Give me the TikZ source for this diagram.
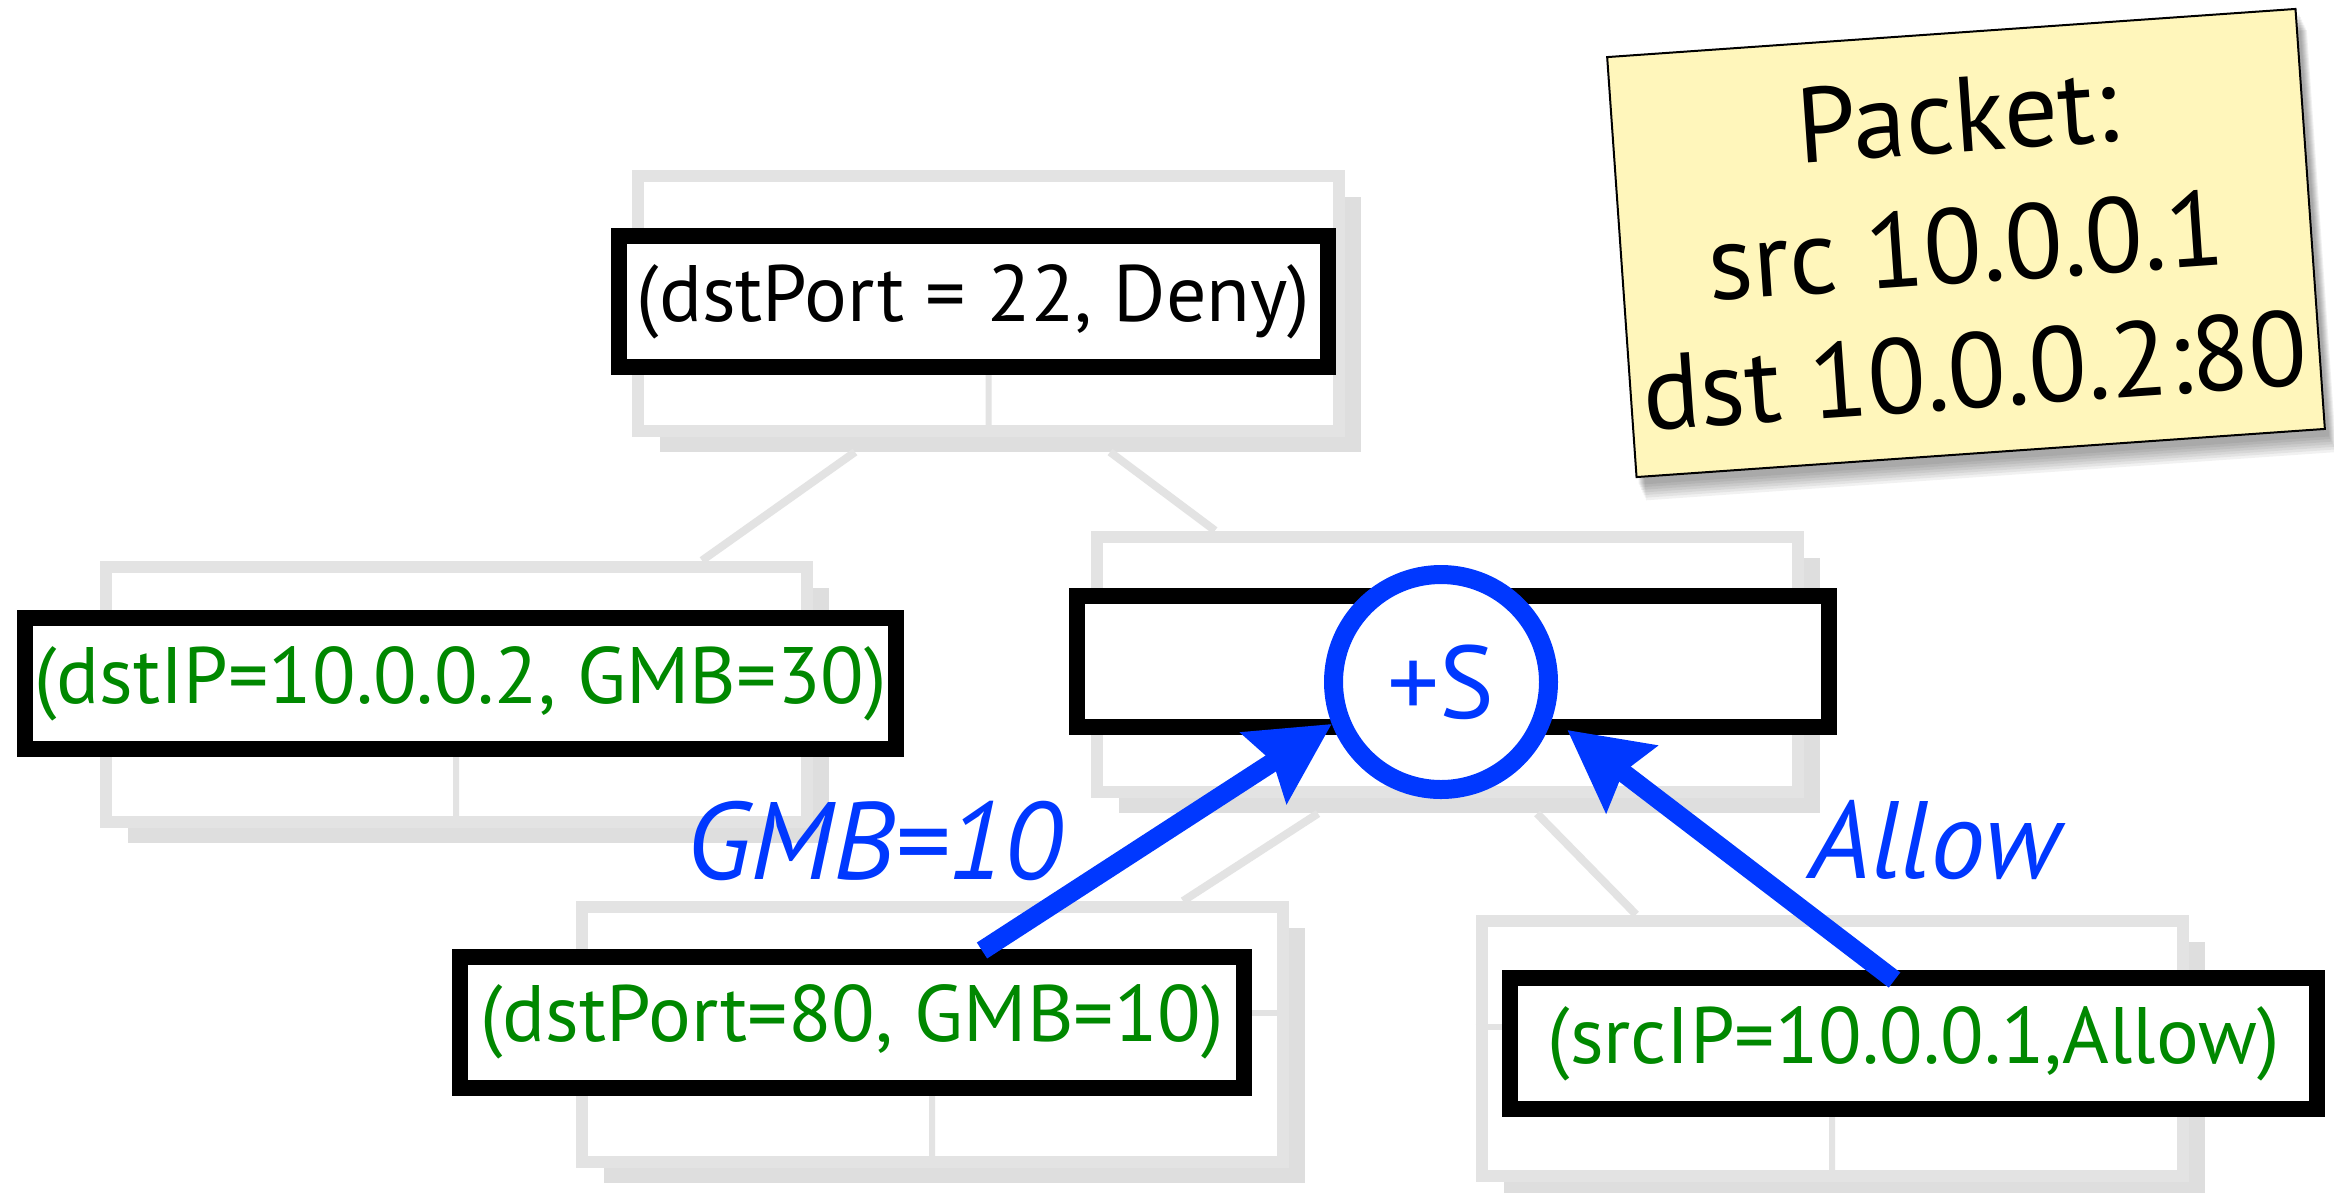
\documentclass[tikz,border=0pt]{standalone}
\usepackage{fontspec}
\setmainfont{PT Sans}
\usetikzlibrary{arrows.meta,calc}
\definecolor{tgreen}{RGB}{0,136,0}
\definecolor{tblue}{RGB}{0,56,255}
\definecolor{boxgray}{RGB}{227,227,227}
\definecolor{shgray}{RGB}{222,222,222}
\definecolor{noteyellow}{RGB}{255,246,187}
\pgfdeclarelayer{background}
\pgfsetlayers{background,main}
\tikzset{
  graybox/.style={draw=boxgray, line width=3.6pt, fill=white, minimum width=210.3pt, minimum height=76.5pt, inner sep=0pt},
  divline/.style={draw=boxgray, line width=1.8pt},
  treeline/.style={draw=boxgray, line width=2.4pt},
  blackbox/.style={draw=black, line width=4.8pt, fill=white, minimum height=39.3pt, inner sep=0pt, font=\fontsize{24}{28}\selectfont},
  rulegreen/.style={text=tgreen},
  bluearrow/.style={draw=tblue, line width=5.7pt, -{Stealth[length=24pt,width=24.6pt,inset=3pt]}},
  bluelabel/.style={text=tblue, font=\fontsize{33}{38}\selectfont\itshape, inner sep=0pt},
  notetext/.style={inner sep=0pt, font=\fontsize{32}{36}\selectfont},
}
\newcommand{\treebox}[3]{%
  \node[graybox] (#1) at (#2,#3) {};
  \draw[divline] ($(#1.north west)!0.42!(#1.south west)$) -- ($(#1.north east)!0.42!(#1.south east)$);
  \draw[divline] ($(#1.north)!0.42!(#1.south)$) -- (#1.south);
  \begin{pgfonlayer}{background}
    \fill[shgray] ([shift={(28,27)}]#1.north west) rectangle ([shift={(16,15)}]#1.south east);
  \end{pgfonlayer}
}
\begin{document}
\begin{tikzpicture}[x=0.3pt,y=-0.3pt]
\useasboundingbox (0,0) rectangle (2334,1192);
\begin{pgfonlayer}{background}
  \fill[white] (0,0) rectangle (2334,1192);
\end{pgfonlayer}
% gray tree boxes
\treebox{gt}{988.5}{303.5}
\treebox{gl}{456}{694}
\treebox{gm}{1447.5}{664}
\treebox{gbl}{932}{1034.5}
\treebox{gbr}{1832}{1048}
% tree connectors
\begin{pgfonlayer}{background}
  \draw[treeline] ([shift={(-133.5,15)}]gt.south) -- ([shift={(246,0)}]gl.north);
  \draw[treeline] ([shift={(121.5,15)}]gt.south) -- ([shift={(-232.5,0)}]gm.north);
  \draw[treeline] ([shift={(-129.5,16)}]gm.south) -- ([shift={(251,0)}]gbl.north);
  \draw[treeline] ([shift={(89.5,16)}]gm.south) -- ([shift={(-196,0)}]gbr.north);
\end{pgfonlayer}
% black rule boxes
\node[blackbox, minimum width=212.7pt] (bt) at (973.5,301.5) {(dstPort = 22, Deny)};
\node[blackbox, minimum width=261.3pt, rulegreen] (bl) at (460.5,683.5) {(dstIP=10.0.0.2, GMB=30)};
\node[blackbox, minimum width=225.6pt] (bm) at (1453,661.5) {};
\node[blackbox, minimum width=235.2pt, rulegreen] (bbl) at (852,1022) {(dstPort=80, GMB=10)};
\node[blackbox, minimum width=242.1pt, rulegreen] (bbr) at (1913.5,1043.5) {(srcIP=10.0.0.1,Allow)};
% +S circle
\node[circle, draw=tblue, line width=5.7pt, fill=white, minimum size=64.5pt, inner sep=0pt, text=tblue, font=\fontsize{31}{35}\selectfont] (plus) at (1441,682) {+S};
% arrows
\coordinate (a1s) at ([shift={(130,2)}]bbl.north);
\coordinate (a2s) at ([shift={(-19,10)}]bbr.north);
\coordinate (a2e) at ([shift={(17,6)}]plus.-21);
\draw[bluearrow] (a1s) -- (plus.-159);
\draw[bluearrow] (a2s) -- (a2e);
\node[bluelabel, anchor=base] (lgmb) at (874,879) {GMB=10};
\node[bluelabel, anchor=base] (lallow) at (1935,878) {Allow};
% packet note
\node[draw=black, line width=0.6pt, fill=noteyellow, rotate=4, minimum width=207pt, minimum height=126.3pt, inner sep=0pt] (note) at (1966,243) {};
\begin{pgfonlayer}{background}
  \foreach \i in {1,...,7}{
    \fill[black, opacity=0.055]
      ([shift={(2+1.2*\i,4+2.6*\i)}]note.north west) -- ([shift={(2+1.2*\i,4+2.6*\i)}]note.north east)
      -- ([shift={(2+1.2*\i,4+2.6*\i)}]note.south east) -- ([shift={(2+1.2*\i,4+2.6*\i)}]note.south west) -- cycle;
  }
\end{pgfonlayer}
\begin{scope}[shift={(note.center)}, rotate=4, transform shape]
  \node[notetext, anchor=base] (n1) at (0,-91) {Packet:};
  \node[notetext, anchor=base] (n2) at (0,40) {src 10.0.0.1};
  \node[notetext, anchor=base] (n3) at (0,165) {dst 10.0.0.2:80};
\end{scope}
\end{tikzpicture}
\end{document}
